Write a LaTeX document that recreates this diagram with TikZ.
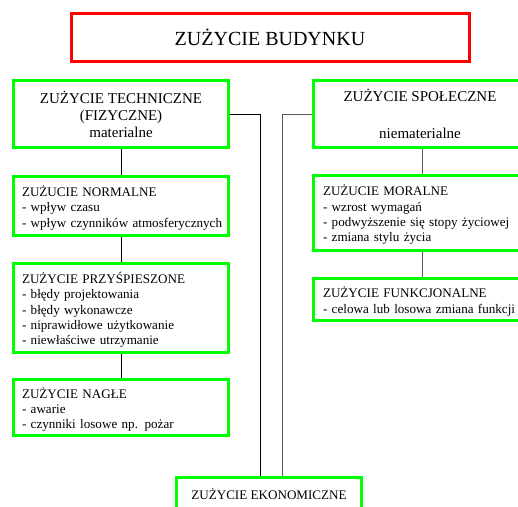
\documentclass[tikz,border=0pt]{standalone}
\usepackage{fontspec}
\setmainfont{Liberation Serif}
\definecolor{boxgreen}{RGB}{0,255,0}
\definecolor{boxred}{RGB}{255,0,0}
\newcommand{\shiftdn}[2]{\raisebox{-#1}[\dimexpr\height+#1\relax][\dimexpr\depth+#1\relax]{#2}}
\newcommand{\linesL}[1]{\shiftdn{2.8pt}{\begin{tabular}{@{}l@{}}#1\end{tabular}}}
\begin{document}
\begin{tikzpicture}[x=1pt,y=-1pt,
  gbox/.style={draw=boxgreen, line width=3.2pt, rectangle, inner sep=0pt},
  lbox/.style={gbox, align=left, text width=#1, font=\fontsize{13.1}{15.3}\selectfont},
  cbox/.style={gbox, align=center, font=\fontsize{15}{17}\selectfont},
  conL/.style={draw=black, line width=0.8pt},
  conR/.style={draw=black!65, line width=0.8pt}]
\useasboundingbox (0,0) rectangle (518,506);
\clip (0,0) rectangle (518,506);
\fill[white] (0,0) rectangle (518,506);

\node[draw=boxred, line width=3pt, minimum width=398pt, minimum height=48pt, inner sep=0pt,
  font=\fontsize{20}{24}\selectfont] (title) at (270,37) {ZUŻYCIE BUDYNKU};

\node[cbox, minimum width=215pt, minimum height=67pt] (tech) at (121,114)
  {ZUŻYCIE TECHNICZNE\\(FIZYCZNE)\\materialne};
\node[cbox, minimum width=213pt, minimum height=67pt] (social) at (420,114)
  {\shiftdn{2.5pt}{\begin{tabular}{@{}c@{}}ZUŻYCIE SPOŁECZNE\\[20pt]niematerialne\end{tabular}}};

\node[lbox=198pt, minimum width=215pt, minimum height=59pt] (normal) at (121,206)
  {\linesL{ZUŻUCIE NORMALNE\\- wpływ czasu\\- wpływ czynników atmosferycznych}};
\node[lbox=198pt, minimum width=215pt, minimum height=89pt] (przysp) at (121,308)
  {\linesL{ZUŻYCIE PRZYŚPIESZONE\\- błędy projektowania\\- błędy wykonawcze\\- niprawidłowe użytkowanie\\- niewłaściwe utrzymanie}};
\node[lbox=198pt, minimum width=215pt, minimum height=56pt] (nagle) at (121,407.5)
  {\linesL{ZUŻYCIE NAGŁE\\- awarie\\- czynniki losowe np. pożar}};

\node[lbox=194pt, minimum width=213pt, minimum height=75pt] (moralne) at (420,213)
  {\linesL{ZUŻUCIE MORALNE\\- wzrost wymagań\\- podwyższenie się stopy życiowej\\- zmiana stylu życia}};
\node[lbox=194pt, minimum width=213pt, minimum height=42pt] (funk) at (420,299.5)
  {\linesL{ZUŻYCIE FUNKCJONALNE\\- celowa lub losowa zmiana funkcji}};

\node[gbox, minimum width=185pt, minimum height=44pt, text depth=0pt,
  font=\fontsize{13.1}{15.3}\selectfont] (econ) at (269,499.5) {\raisebox{11pt}{ZUŻYCIE EKONOMICZNE}};

\draw[conL] (tech.south) -- (normal.north);
\draw[conL] (normal.south) -- (przysp.north);
\draw[conL] (przysp.south) -- (nagle.north);
\draw[conL] (tech.east) -| ([xshift=-9pt]econ.north);
\draw[conR] (social.west) -| ([xshift=13pt]econ.north);
\draw[conR] ([xshift=2pt]social.south) -- ([xshift=2pt]moralne.north);
\draw[conR] ([xshift=2pt]moralne.south) -- ([xshift=2pt]funk.north);
\end{tikzpicture}
\end{document}
